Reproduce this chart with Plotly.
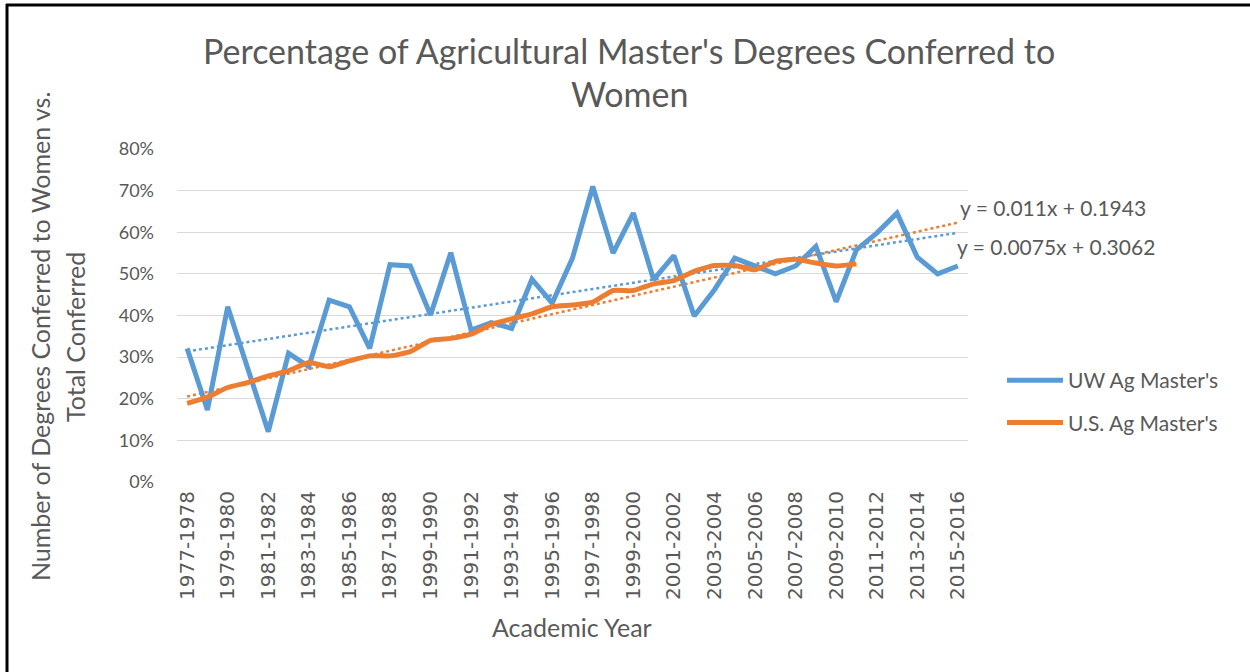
import plotly.graph_objects as go

categories = ["1977-1978", "1978-1979", "1979-1980", "1980-1981", "1981-1982", "1982-1983",
              "1983-1984", "1984-1985", "1985-1986", "1986-1987", "1987-1988", "1988-1989",
              "1999-1990", "1990-1991", "1991-1992", "1992-1993", "1993-1994", "1994-1995",
              "1995-1996", "1996-1997", "1997-1998", "1998-1999", "1999-2000", "2000-2001",
              "2001-2002", "2002-2003", "2003-2004", "2004-2005", "2005-2006", "2006-2007",
              "2007-2008", "2008-2009", "2009-2010", "2010-2011", "2011-2012", "2012-2013",
              "2013-2014", "2014-2015", "2015-2016"]

uw_values = [0.321, 0.173, 0.421, 0.272, 0.121, 0.309, 0.277, 0.437, 0.421, 0.321,
             0.522, 0.519, 0.401, 0.551, 0.365, 0.383, 0.369, 0.487, 0.430, 0.538,
             0.710, 0.550, 0.646, 0.486, 0.544, 0.399, 0.462, 0.538, 0.519, 0.500,
             0.519, 0.566, 0.433, 0.558, 0.598, 0.646, 0.540, 0.500, 0.519]

us_values = [0.189, 0.204, 0.227, 0.239, 0.255, 0.267, 0.287, 0.277, 0.291, 0.303,
             0.303, 0.313, 0.340, 0.345, 0.355, 0.379, 0.392, 0.404, 0.421, 0.425,
             0.432, 0.460, 0.460, 0.476, 0.484, 0.506, 0.520, 0.520, 0.510, 0.530,
             0.535, 0.526, 0.519, 0.524, None, None, None, None, None]

uw_trend = (0.0075, 0.3062)   # slope, intercept (from chart)
us_trend = (0.011, 0.1943)

tick_labels = categories[::2]

BLUE = "#5B9BD5"
ORANGE = "#ED7D31"
GREY = "#595959"
FONT = "Lato, 'Open Sans', sans-serif"

xi = list(range(1, len(categories) + 1))
uw_tr = [uw_trend[0] * x + uw_trend[1] for x in xi]
us_tr = [us_trend[0] * x + us_trend[1] for x in xi]

fig = go.Figure()
fig.add_trace(go.Scatter(x=categories, y=uw_tr, mode="lines", showlegend=False,
                         line=dict(color=BLUE, width=2.5, dash="dot"), hoverinfo="skip"))
fig.add_trace(go.Scatter(x=categories, y=us_tr, mode="lines", showlegend=False,
                         line=dict(color=ORANGE, width=2.5, dash="dot"), hoverinfo="skip"))
fig.add_trace(go.Scatter(x=categories, y=uw_values, mode="lines", name="UW Ag Master's",
                         legendgroup="a", line=dict(color=BLUE, width=5)))
fig.add_trace(go.Scatter(x=categories, y=us_values, mode="lines", name="U.S. Ag Master's",
                         legendgroup="b", line=dict(color=ORANGE, width=5, shape="spline", smoothing=0.5)))

W, H = 1250, 672
L, R, T, B = 177, 968, 149, 482

def px_to_paper_x(px):
    return (px - L) / (R - L)

def px_to_paper_y(py):
    return (B - py) / (B - T)

fig.update_layout(
    width=W, height=H,
    margin=dict(l=L, r=W - R, t=T, b=H - B),
    paper_bgcolor="white", plot_bgcolor="white",
    font=dict(family=FONT, color=GREY),
    showlegend=True,
    legend=dict(x=px_to_paper_x(1002), y=px_to_paper_y(360), xanchor="left", yanchor="top",
                font=dict(size=21, color=GREY, family=FONT), tracegroupgap=12,
                itemwidth=56, bgcolor="rgba(0,0,0,0)"),
    xaxis=dict(type="category", categoryorder="array", categoryarray=categories,
               range=[-0.5, len(categories) - 0.5],
               tickmode="array", tickvals=tick_labels, ticktext=tick_labels,
               tickangle=-90, tickfont=dict(size=20, color=GREY, family="DejaVu Sans"),
               showgrid=False, showline=False, zeroline=False, ticks="", ticklen=0,
               ticklabelstandoff=4),
    yaxis=dict(range=[0, 0.8], dtick=0.1, tickformat=".0%",
               tickfont=dict(size=18, color=GREY, family=FONT),
               showgrid=True, gridcolor="#D9D9D9", gridwidth=1,
               showline=False, zeroline=False, ticks="", ticklabelstandoff=22),
)

ann = []
ann.append(dict(text="Percentage of Agricultural Master's Degrees Conferred to", xref="paper", yref="paper",
                x=px_to_paper_x(629), y=px_to_paper_y(51), xanchor="center", yanchor="middle",
                showarrow=False, font=dict(size=34, color=GREY, family=FONT)))
ann.append(dict(text="Women", xref="paper", yref="paper",
                x=px_to_paper_x(629), y=px_to_paper_y(93), xanchor="center", yanchor="middle",
                showarrow=False, font=dict(size=34, color=GREY, family=FONT)))
ann.append(dict(text="Number of Degrees Conferred to Women vs.", xref="paper", yref="paper",
                x=px_to_paper_x(40), y=px_to_paper_y(337), xanchor="center", yanchor="middle",
                textangle=-90, showarrow=False, font=dict(size=25, color=GREY, family=FONT)))
ann.append(dict(text="Total Conferred", xref="paper", yref="paper",
                x=px_to_paper_x(75), y=px_to_paper_y(337), xanchor="center", yanchor="middle",
                textangle=-90, showarrow=False, font=dict(size=25, color=GREY, family=FONT)))
ann.append(dict(text="Academic Year", xref="paper", yref="paper",
                x=px_to_paper_x(572), y=px_to_paper_y(627), xanchor="center", yanchor="middle",
                showarrow=False, font=dict(size=25, color=GREY, family=FONT)))
ann.append(dict(text="y = %sx + %s" % (us_trend[0], us_trend[1]), xref="paper", yref="paper",
                x=px_to_paper_x(958), y=px_to_paper_y(207), xanchor="left", yanchor="middle",
                showarrow=False, font=dict(size=21, color=GREY, family=FONT)))
ann.append(dict(text="y = %sx + %s" % (uw_trend[0], uw_trend[1]), xref="paper", yref="paper",
                x=px_to_paper_x(955), y=px_to_paper_y(246), xanchor="left", yanchor="middle",
                showarrow=False, font=dict(size=21, color=GREY, family=FONT)))
fig.update_layout(annotations=ann)

# frame lines (top and left) as in the reference image
fig.add_shape(type="line", xref="paper", yref="paper",
              x0=px_to_paper_x(6), x1=px_to_paper_x(W), y0=px_to_paper_y(5), y1=px_to_paper_y(5),
              line=dict(color="black", width=3))
fig.add_shape(type="line", xref="paper", yref="paper",
              x0=px_to_paper_x(7), x1=px_to_paper_x(7), y0=px_to_paper_y(4), y1=px_to_paper_y(H),
              line=dict(color="black", width=3))

fig.write_html("out.html", config={"displayModeBar": False},
               post_script="document.body.style.margin='0';document.body.style.overflow='hidden';")
